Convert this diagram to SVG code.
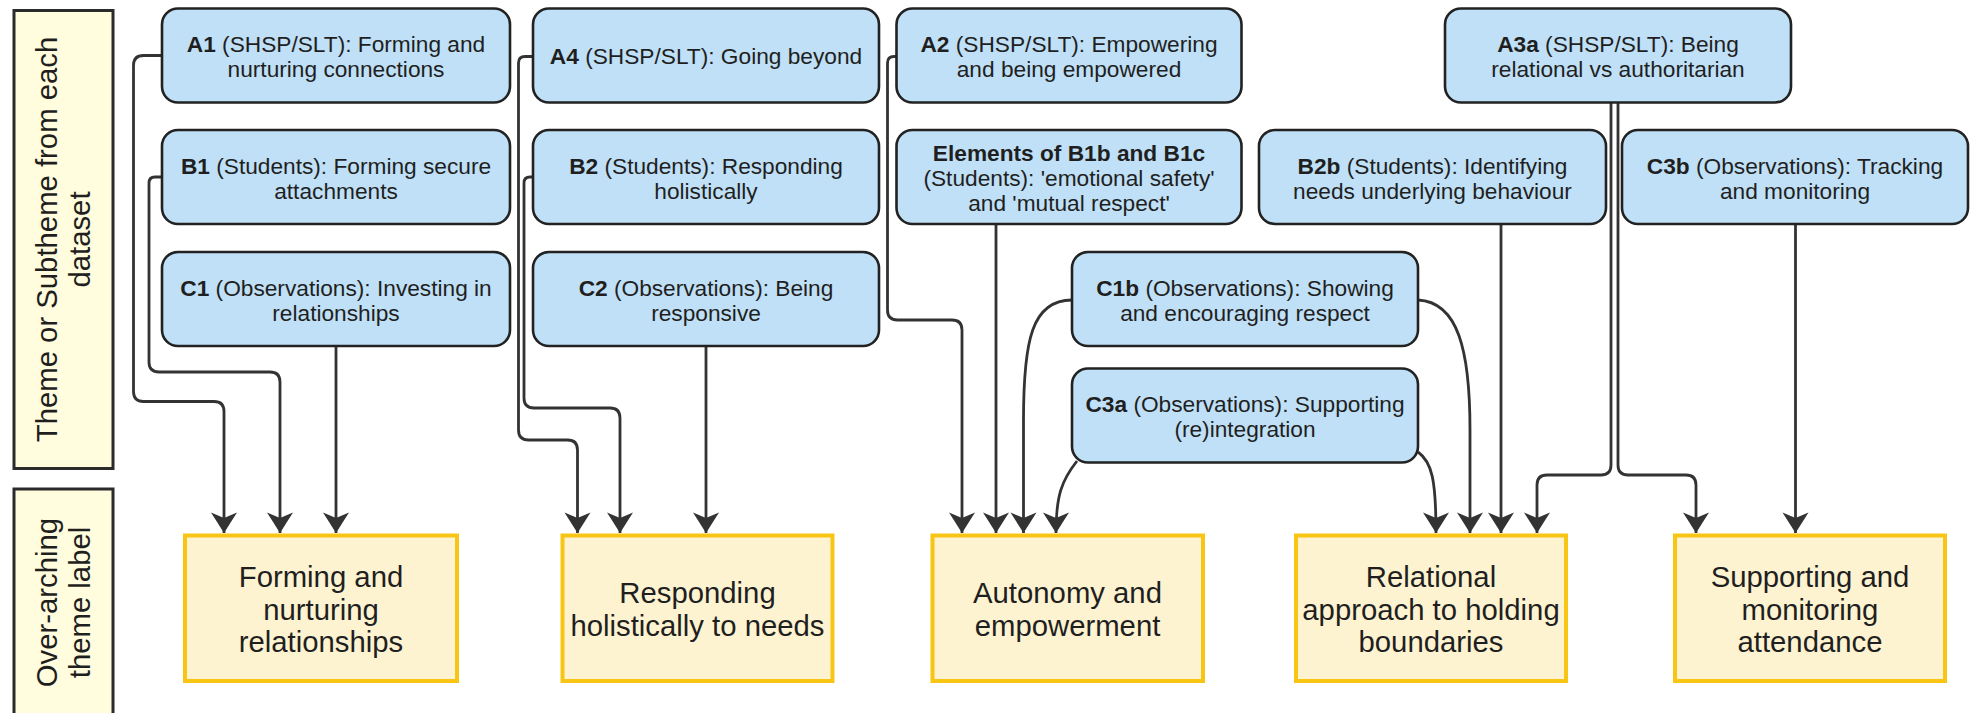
<svg xmlns="http://www.w3.org/2000/svg" width="1971" height="713" viewBox="0 0 1971 713">
  <style>
    text { font-family: "Liberation Sans", Arial, Helvetica, sans-serif; fill: #1f1f1f; }
    .side rect { fill: #fffddd; stroke: #2b2b2b; stroke-width: 3; }
    .side text { font-size: 29.3px; text-anchor: middle; }
    .sub rect { fill: #bfe0f6; stroke: #222; stroke-width: 2.6; }
    .sub text { font-size: 22.7px; text-anchor: middle; }
    .theme rect { fill: #fdf3d0; stroke: #f9c514; stroke-width: 4; }
    .theme text { font-size: 29.3px; text-anchor: middle; }
    .b { font-weight: bold; }
    #connectors path { fill: none; stroke: #333; stroke-width: 2.8; marker-end: url(#arrow); }
  </style>
  <defs>
    <marker id="arrow" markerUnits="userSpaceOnUse" viewBox="-24 -16 28 32" refX="0" refY="0" markerWidth="28" markerHeight="32" orient="auto">
      <path d="M0,0 L-20.5,-13 L-15,0 L-20.5,13 Z" fill="#333"/>
    </marker>
  </defs>

  <rect width="1971" height="713" fill="#ffffff"/>

  <!-- row headings -->
  <g id="heading-subtheme" class="side">
    <rect x="14" y="10.5" width="99" height="458"/>
    <text transform="translate(63,239.5) rotate(-90)"><tspan x="0" y="-6">Theme or Subtheme from each</tspan><tspan x="0" y="27">dataset</tspan></text>
  </g>
  <g id="heading-theme" class="side">
    <rect x="14" y="489" width="99" height="228"/>
    <text transform="translate(63,602.5) rotate(-90)"><tspan x="0" y="-6">Over-arching</tspan><tspan x="0" y="27">theme label</tspan></text>
  </g>

  <!-- connectors -->
  <g id="connectors">
    <path d="M162,55.5 H143.5 Q133.5,55.5 133.5,65.5 V391.5 Q133.5,401.5 143.5,401.5 H214 Q224,401.5 224,411.5 V533"/>
    <path d="M162,177 H155 Q149,177 149,183 V362 Q149,372 159,372 H270 Q280,372 280,382 V533"/>
    <path d="M336,346 V533"/>
    <path d="M533,56.5 H525 Q518.5,56.5 518.5,63 V430 Q518.5,440 528.5,440 H567.5 Q577.5,440 577.5,450 V533"/>
    <path d="M533,177 H530 Q524,177 524,183 V398 Q524,408 534,408 H610 Q620,408 620,418 V533"/>
    <path d="M706,346 V533"/>
    <path d="M896.5,56.5 H894 Q887.5,56.5 887.5,63 V310 Q887.5,320 897.5,320 H952 Q962,320 962,330 V533"/>
    <path d="M996,224 V533"/>
    <path d="M1072,300 C1032,300 1023.5,340 1023.5,420 V533"/>
    <path d="M1077,461 C1062,480 1056,495 1056,533"/>
    <path d="M1418,300 C1458,302 1470,350 1470,430 V533"/>
    <path d="M1418,452 C1432,462 1436,480 1436,533"/>
    <path d="M1501,224 V533"/>
    <path d="M1611,102 V465 Q1611,475 1601,475 H1547 Q1537,475 1537,485 V533"/>
    <path d="M1618,102 V465 Q1618,475 1628,475 H1686 Q1696,475 1696,485 V533"/>
    <path d="M1795.5,224 V533"/>
  </g>

  <!-- subthemes -->
  <g id="A1" class="sub">
    <rect x="162" y="8.5" width="348" height="94" rx="16"/>
    <text><tspan x="336" y="52"><tspan class="b">A1</tspan> (SHSP/SLT): Forming and</tspan><tspan x="336" y="77">nurturing connections</tspan></text>
  </g>
  <g id="B1" class="sub">
    <rect x="162" y="130" width="348" height="94" rx="16"/>
    <text><tspan x="336" y="173.5"><tspan class="b">B1</tspan> (Students): Forming secure</tspan><tspan x="336" y="198.5">attachments</tspan></text>
  </g>
  <g id="C1" class="sub">
    <rect x="162" y="252" width="348" height="94" rx="16"/>
    <text><tspan x="336" y="295.5"><tspan class="b">C1</tspan> (Observations): Investing in</tspan><tspan x="336" y="320.5">relationships</tspan></text>
  </g>

  <g id="A4" class="sub">
    <rect x="533" y="8.5" width="346" height="94" rx="16"/>
    <text><tspan x="706" y="64"><tspan class="b">A4</tspan> (SHSP/SLT): Going beyond</tspan></text>
  </g>
  <g id="B2" class="sub">
    <rect x="533" y="130" width="346" height="94" rx="16"/>
    <text><tspan x="706" y="173.5"><tspan class="b">B2</tspan> (Students): Responding</tspan><tspan x="706" y="198.5">holistically</tspan></text>
  </g>
  <g id="C2" class="sub">
    <rect x="533" y="252" width="346" height="94" rx="16"/>
    <text><tspan x="706" y="295.5"><tspan class="b">C2</tspan> (Observations): Being</tspan><tspan x="706" y="320.5">responsive</tspan></text>
  </g>

  <g id="A2" class="sub">
    <rect x="896.5" y="8.5" width="345" height="94" rx="16"/>
    <text><tspan x="1069" y="52"><tspan class="b">A2</tspan> (SHSP/SLT): Empowering</tspan><tspan x="1069" y="77">and being empowered</tspan></text>
  </g>
  <g id="B1b-B1c" class="sub">
    <rect x="896.5" y="130" width="345" height="94" rx="16"/>
    <text><tspan x="1069" y="161" class="b">Elements of B1b and B1c</tspan><tspan x="1069" y="186">(Students): 'emotional safety'</tspan><tspan x="1069" y="211">and 'mutual respect'</tspan></text>
  </g>
  <g id="C1b" class="sub">
    <rect x="1072" y="252" width="346" height="94" rx="16"/>
    <text><tspan x="1245" y="295.5"><tspan class="b">C1b</tspan> (Observations): Showing</tspan><tspan x="1245" y="320.5">and encouraging respect</tspan></text>
  </g>
  <g id="C3a" class="sub">
    <rect x="1072" y="368.5" width="346" height="94" rx="16"/>
    <text><tspan x="1245" y="412"><tspan class="b">C3a</tspan> (Observations): Supporting</tspan><tspan x="1245" y="437">(re)integration</tspan></text>
  </g>

  <g id="A3a" class="sub">
    <rect x="1445" y="8.5" width="346" height="94" rx="16"/>
    <text><tspan x="1618" y="52"><tspan class="b">A3a</tspan> (SHSP/SLT): Being</tspan><tspan x="1618" y="77">relational vs authoritarian</tspan></text>
  </g>
  <g id="B2b" class="sub">
    <rect x="1259" y="130" width="347" height="94" rx="16"/>
    <text><tspan x="1432.5" y="173.5"><tspan class="b">B2b</tspan> (Students): Identifying</tspan><tspan x="1432.5" y="198.5">needs underlying behaviour</tspan></text>
  </g>
  <g id="C3b" class="sub">
    <rect x="1622" y="130" width="346" height="94" rx="16"/>
    <text><tspan x="1795" y="173.5"><tspan class="b">C3b</tspan> (Observations): Tracking</tspan><tspan x="1795" y="198.5">and monitoring</tspan></text>
  </g>

  <!-- over-arching themes -->
  <g id="theme-relationships" class="theme">
    <rect x="185" y="535.5" width="272" height="145.5"/>
    <text><tspan x="321" y="587">Forming and</tspan><tspan x="321" y="619.5">nurturing</tspan><tspan x="321" y="652">relationships</tspan></text>
  </g>
  <g id="theme-holistic" class="theme">
    <rect x="562.5" y="535.5" width="270" height="145.5"/>
    <text><tspan x="697.5" y="603">Responding</tspan><tspan x="697.5" y="635.5">holistically to needs</tspan></text>
  </g>
  <g id="theme-autonomy" class="theme">
    <rect x="932.5" y="535.5" width="270.5" height="145.5"/>
    <text><tspan x="1067.5" y="603">Autonomy and</tspan><tspan x="1067.5" y="635.5">empowerment</tspan></text>
  </g>
  <g id="theme-boundaries" class="theme">
    <rect x="1296" y="535.5" width="270" height="145.5"/>
    <text><tspan x="1431" y="587">Relational</tspan><tspan x="1431" y="619.5">approach to holding</tspan><tspan x="1431" y="652">boundaries</tspan></text>
  </g>
  <g id="theme-attendance" class="theme">
    <rect x="1675" y="535.5" width="270" height="145.5"/>
    <text><tspan x="1810" y="587">Supporting and</tspan><tspan x="1810" y="619.5">monitoring</tspan><tspan x="1810" y="652">attendance</tspan></text>
  </g>
</svg>
